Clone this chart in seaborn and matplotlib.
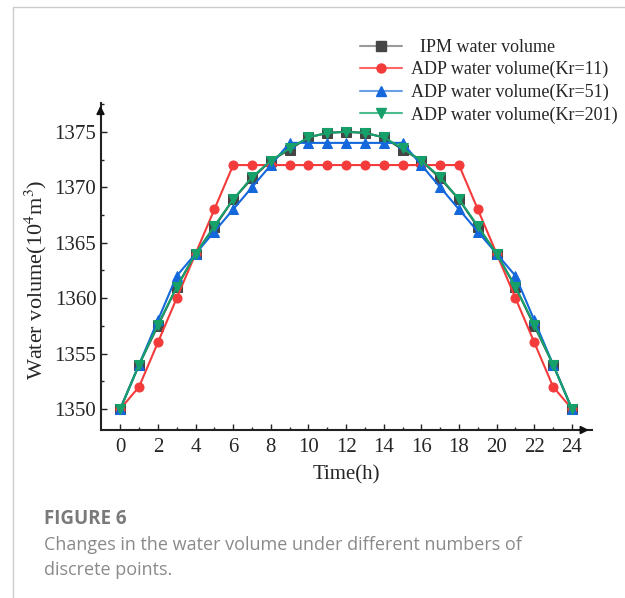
import numpy as np
import pandas as pd
import seaborn as sns
import matplotlib
matplotlib.use("Agg")
import matplotlib.pyplot as plt
from matplotlib.ticker import MultipleLocator
from matplotlib.lines import Line2D

hours = list(range(25))
ipm = [1350, 1354, 1357.5, 1361, 1364, 1366.4, 1368.9, 1370.8, 1372.4, 1373.4, 1374.5, 1374.9, 1375,
       1374.9, 1374.5, 1373.4, 1372.4, 1370.8, 1368.9, 1366.4, 1364, 1361, 1357.5, 1354, 1350]
kr11 = [1350, 1352, 1356, 1360, 1364, 1368, 1372, 1372, 1372, 1372, 1372, 1372, 1372,
        1372, 1372, 1372, 1372, 1372, 1372, 1368, 1364, 1360, 1356, 1352, 1350]
kr51 = [1350, 1354, 1358, 1362, 1364, 1366, 1368, 1370, 1372, 1374, 1374, 1374, 1374,
        1374, 1374, 1374, 1372, 1370, 1368, 1366, 1364, 1362, 1358, 1354, 1350]
kr201 = [1350, 1354, 1357.6, 1361, 1364, 1366.5, 1368.9, 1370.9, 1372.4, 1373.5, 1374.5, 1374.9, 1375,
         1374.9, 1374.5, 1373.5, 1372.4, 1370.9, 1368.9, 1366.5, 1364, 1361, 1357.6, 1354, 1350]

labels = ["  IPM water volume", "ADP water volume(Kr=11)", "ADP water volume(Kr=51)", "ADP water volume(Kr=201)"]
series = [ipm, kr11, kr51, kr201]
colors = ["#454545", "#F43B3B", "#1468DC", "#16A06A"]
legend_line_colors = ["#9a9a9a", "#F66", "#6AA0E8", "#4DBB8E"]
markers = ["s", "o", "^", "v"]

sns.set_style("ticks")
plt.rcParams['font.family'] = ['Liberation Serif', 'DejaVu Serif']
plt.rcParams['mathtext.fontset'] = 'stix'

fig = plt.figure(figsize=(6.25, 5.98), dpi=100)
ax = fig.add_axes([0.1608, 0.2809, 0.9467 - 0.1608, 0.8278 - 0.2809])

for s, lab, c, m in zip(series, labels, colors, markers):
    df = pd.DataFrame({"Time": hours, "Vol": s})
    sns.lineplot(data=df, x="Time", y="Vol", ax=ax, color=c, marker=m, markersize=6.5,
                 markeredgecolor=c, linewidth=1.5, label=lab, legend=False)

ax.set_xlim(-1.05, 25.05)
ax.set_ylim(1348.1, 1377.6)
ax.yaxis.set_major_locator(MultipleLocator(5))
ax.yaxis.set_minor_locator(MultipleLocator(2.5))
ax.set_xticks(range(0, 25, 2))
ax.set_xticks(range(1, 24, 2), minor=True)
ax.tick_params(axis='both', which='major', direction='in', length=4.5, width=1, labelsize=15, color='#222')
ax.tick_params(axis='both', which='minor', direction='in', length=2.5, width=1, color='#222')
ax.tick_params(axis='x', which='major', pad=6)
ax.tick_params(axis='y', which='major', pad=3)
ax.set_xlim(-1.05, 25.05)

for sp in ['top', 'right']:
    ax.spines[sp].set_visible(False)
for sp in ['left', 'bottom']:
    ax.spines[sp].set_linewidth(1.5)
    ax.spines[sp].set_color('#222')

# arrow heads
ax.annotate("", xy=(1.0, 0), xytext=(0.97, 0), xycoords='axes fraction',
            arrowprops=dict(arrowstyle="-|>", color='#111', lw=1.2, mutation_scale=12), annotation_clip=False)
ax.annotate("", xy=(0, 1.0), xytext=(0, 0.97), xycoords='axes fraction',
            arrowprops=dict(arrowstyle="-|>", color='#111', lw=1.2, mutation_scale=12), annotation_clip=False)

ax.set_xlabel("Time(h)", fontsize=15, labelpad=6)
ax.set_ylabel(r"Water volume(10$^4$m$^3$)", fontsize=16)
ax.yaxis.set_label_coords(-0.105, 0.46)

handles = [Line2D([0], [0], color=lc, marker=m, markerfacecolor=c, markeredgecolor=c,
                  markersize=6.5, linewidth=1.5) for lc, c, m in zip(legend_line_colors, colors, markers)]
leg = fig.legend(handles, labels, loc='upper left', bbox_to_anchor=(0.565, 0.947), frameon=False,
                 fontsize=13, handlelength=2.3, handletextpad=0.5, labelspacing=0.29, borderaxespad=0)

# card border
fig.add_artist(Line2D([12.5/625, 12.5/625], [0, 1 - 7/598], transform=fig.transFigure, color='#cccccc', lw=1))
fig.add_artist(Line2D([12.5/625, 1], [1 - 7/598, 1 - 7/598], transform=fig.transFigure, color='#cccccc', lw=1))

fig.text(44/625, 1 - 519/598, "FIGURE 6", fontsize=13.5, fontweight='bold', color='#7a7a7a',
         family=['Open Sans', 'DejaVu Sans'], va='center', ha='left')
fig.text(44/625, 1 - 545/598, "Changes in the water volume under different numbers of", fontsize=13,
         color='#8a8a8a', family=['Open Sans', 'DejaVu Sans'], va='center', ha='left')
fig.text(44/625, 1 - 570/598, "discrete points.", fontsize=13,
         color='#8a8a8a', family=['Open Sans', 'DejaVu Sans'], va='center', ha='left')

fig.savefig("out.png", dpi=100)
